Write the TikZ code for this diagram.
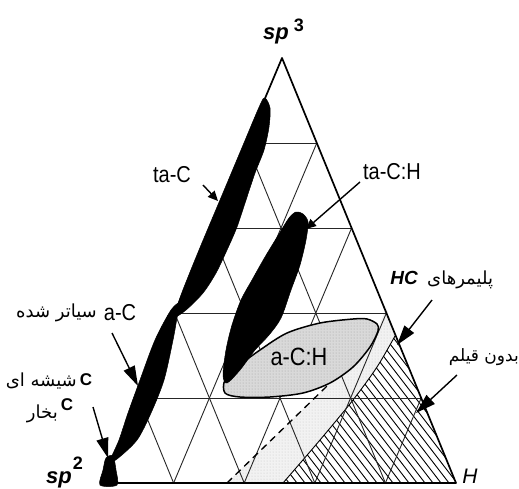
\documentclass[tikz,border=0pt]{standalone}
\usepackage{fontspec}
\setmainfont{Liberation Sans}
\newfontfamily\lblfont{Liberation Sans}
\newfontfamily\fa[Script=Arabic]{DejaVu Sans}
\TeXXeTstate=1
\usetikzlibrary{calc,arrows.meta,patterns}
\begin{document}
\begin{tikzpicture}[x=1pt,y=-1pt,
  gridline/.style={line width=0.9pt, black!85},
  edge/.style={line width=1.7pt, line join=round},
  blob/.style={fill=black, draw=black, line width=0.5pt},
  hatchline/.style={line width=0.9pt},
  arrbig/.style={line width=1.4pt, -{Triangle[length=20pt,width=12pt]}},
  arrsmall/.style={line width=1.4pt, -{Triangle[length=10pt,width=9pt]}},
  lbl/.style={font=\lblfont\fontsize{23}{23}\selectfont, inner sep=0pt, xscale=0.87},
  falbl/.style={font=\fa\fontsize{18}{18}\selectfont, inner sep=0pt},
  bilbl/.style={font=\bfseries\itshape\fontsize{22}{22}\selectfont, inner sep=0pt},
  clbl/.style={font=\bfseries\fontsize{17}{17}\selectfont, inner sep=0pt}
]
\useasboundingbox (0,0) rectangle (519,488);
\fill[white] (0,0) rectangle (519,488);

\coordinate (A) at (282,58);
\coordinate (L) at (103,483);
\coordinate (R) at (456,483);

% stippled band
\def\bandpath{(227,483) -- (327,386) -- (353,367) -- (370,347) -- (378,330) -- (386,307) -- (395,336) -- (377,367) -- (353,400) -- (320,440) -- (283,483) -- cycle}
\fill[gray!10] \bandpath;
\path[pattern=dots, pattern color=gray!45] \bandpath;

% hatched region
\begin{scope}
  \clip plot[smooth] coordinates {(283,483) (320,440) (353,400) (377,367) (395,336)} -- (456,483) -- cycle;
  \foreach \c in {289,297,...,521} \draw[hatchline] (\c,483) -- ++(-220,-286);
\end{scope}
\draw[hatchline] plot[smooth] coordinates {(283,483) (320,440) (353,400) (377,367) (395,336)};

% grid
\foreach \k [evaluate=\k as \f using \k/5, evaluate=\k as \g using 1-\k/5] in {1,2,3,4} {
  \draw[gridline] ($(L)!\f!(A)$) -- ($(R)!\f!(A)$);
  \draw[gridline] ($(L)!\f!(R)$) -- ($(R)!\g!(A)$);
  \draw[gridline] ($(L)!\f!(R)$) -- ($(L)!\f!(A)$);
}

% ellipse a-C:H fill
\def\ellpath{plot[smooth cycle] coordinates {(377,324) (367,319) (353,319) (320,323) (287,333) (260,350) (240,365) (225,380) (225,393) (240,397) (270,397) (303,393) (330,383) (353,367) (370,347) (378,331)}}
\fill[gray!30] \ellpath;
\path[pattern=dots, pattern color=gray!75] \ellpath;

% dashed line
\coordinate (dA) at (227,483);
\coordinate (dB) at (327,386);
\draw[line width=1.3pt, dash pattern=on 7pt off 5pt] (dA) -- (dB);

% black blobs
\fill[blob] plot[smooth cycle, tension=0.5] coordinates {(265,98) (270,108) (269,127) (264,150) (255,173) (246,200) (237,227) (227,250) (216,273) (203,293) (186,310) (175,316) (181,295) (199,250) (220,200) (241,150) (260,105)};
\fill[blob] plot[smooth cycle, tension=0.5] coordinates {(180,303) (177,318) (173,340) (164,380) (151,413) (137,440) (117,459) (110,461) (119,440) (128,413) (140,380) (155,340) (171,310)};
\fill[blob] plot[smooth cycle, tension=0.5] coordinates {(106,458) (113,456) (116,470) (117,485) (100,485) (103,470)};
\fill[blob] plot[smooth cycle, tension=0.5] coordinates {(296,212) (303,214) (308,222) (306,240) (300,265) (291,290) (281,318) (269,335) (255,350) (240,370) (227,383) (223,375) (226,350) (232,325) (241,300) (252,280) (265,257) (279,234) (289,218)};

% ellipse outline
\draw[line width=1.5pt] \ellpath;

% triangle
\draw[edge] (A) -- (L) -- (R) -- cycle;

% arrows
\coordinate (taCa) at (203,185);  \coordinate (taCt) at (218,201);
\coordinate (taCHa) at (360,182); \coordinate (taCHt) at (306,229);
\coordinate (aCa) at (112,333);   \coordinate (aCt) at (138,386);
\coordinate (Cva) at (93,407);    \coordinate (Cvt) at (108,458);
\coordinate (HCa) at (432,300);   \coordinate (HCt) at (397,345);
\coordinate (nfa) at (457,375);   \coordinate (nft) at (416,413);
\draw[arrsmall] (taCa) -- (taCt);
\draw[arrsmall] (taCHa) -- (taCHt);
\draw[arrbig] (aCa) -- (aCt);
\draw[arrbig] (Cva) -- (Cvt);
\draw[arrbig] (HCa) -- (HCt);
\draw[arrbig] (nfa) -- (nft);

% labels
\node[lbl] (taC) at (172,175) {ta-C};
\node[lbl] (taCH) at (392,172) {ta-C:H};
\node[lbl] (aC) at (120,313) {a-C};
\node[lbl, font=\lblfont\fontsize{25}{25}\selectfont] (aCH) at (299,357) {a-C:H};
\node[falbl, anchor=east] (faSputter) at (97,313) {\beginR سیاتر شده\endR};
\node[clbl] (Cg) at (86,380) {C};
\node[falbl, anchor=east] (faGlass) at (77,381) {\beginR شیشه ای\endR};
\node[clbl] (Cv) at (67,405) {C};
\node[falbl, anchor=east] (faVapor) at (58,414) {\beginR بخار\endR};
\node[bilbl] (sp3s) at (276,36) {sp};
\node[clbl, font=\bfseries\fontsize{18}{18}\selectfont] (sp3n) at (299,25) {3};
\node[bilbl] (sp2s) at (59,480) {sp};
\node[clbl, font=\bfseries\fontsize{18}{18}\selectfont] (sp2n) at (78,463) {2};
\node[font=\itshape\fontsize{21}{21}\selectfont, inner sep=0pt] (Hl) at (470,476) {H};
\node[bilbl, font=\bfseries\itshape\fontsize{19}{19}\selectfont] (HC) at (404,278) {HC};
\node[falbl, anchor=west] (faPoly) at (427,280) {\beginR پلیمرهای\endR};
\node[falbl, font=\fa\fontsize{17}{17}\selectfont, anchor=east] (faNoFilm) at (519,357) {\beginR بدون قیلم\endR};
\end{tikzpicture}
\end{document}
